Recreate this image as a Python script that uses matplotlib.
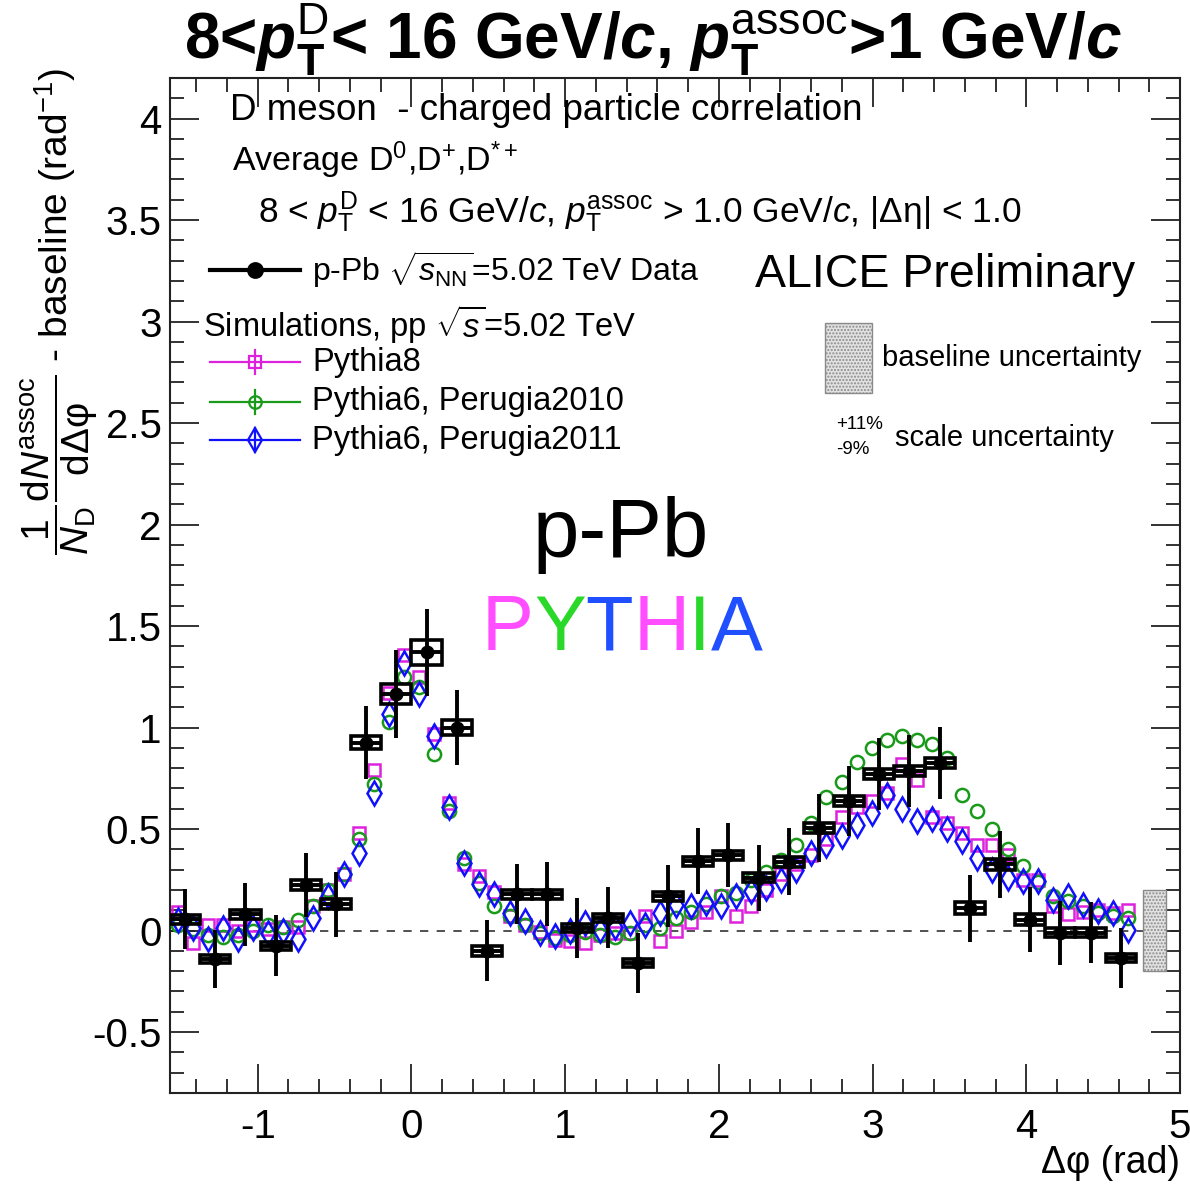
#!/usr/bin/env python3
"""D meson - charged particle azimuthal correlation, p-Pb data vs PYTHIA."""

import numpy as np
import matplotlib
matplotlib.use('Agg')
import matplotlib.pyplot as plt
from matplotlib.patches import Rectangle
from matplotlib.lines import Line2D
from matplotlib.ticker import MultipleLocator, FuncFormatter

plt.rcParams['font.family'] = ['Liberation Sans', 'DejaVu Sans']
plt.rcParams['mathtext.fontset'] = 'custom'
plt.rcParams['mathtext.rm'] = 'Liberation Sans'
plt.rcParams['mathtext.it'] = 'Liberation Sans:italic'
plt.rcParams['mathtext.bf'] = 'Liberation Sans:bold'
plt.rcParams['mathtext.bfit'] = 'Liberation Sans:italic:bold'
plt.rcParams['mathtext.sf'] = 'Liberation Sans'
plt.rcParams['axes.unicode_minus'] = False

# p-Pb data, 32 bins in [-pi/2, 3pi/2)
data_y = [0.055, -0.14, 0.08, -0.075, 0.225, 0.13, 0.925, 1.165, 1.37, 1.0,
          -0.1, 0.18, 0.18, 0.013, 0.063, -0.16, 0.17, 0.342, 0.372, 0.26,
          0.338, 0.506, 0.638, 0.77, 0.786, 0.827, 0.11, 0.326, 0.054, -0.01,
          -0.01, -0.135]
data_stat = [0.148, 0.142, 0.156, 0.15, 0.156, 0.16, 0.18, 0.215, 0.213, 0.185,
             0.15, 0.146, 0.156, 0.148, 0.15, 0.148, 0.152, 0.162, 0.158, 0.162,
             0.165, 0.168, 0.172, 0.177, 0.177, 0.177, 0.164, 0.165, 0.16, 0.157,
             0.152, 0.148]
data_syst = [0.022, 0.02, 0.022, 0.02, 0.025, 0.025, 0.032, 0.05, 0.062, 0.035,
             0.025, 0.022, 0.022, 0.02, 0.02, 0.02, 0.022, 0.022, 0.022, 0.022,
             0.024, 0.024, 0.025, 0.025, 0.025, 0.025, 0.03, 0.026, 0.026, 0.022,
             0.022, 0.02]

# simulations, 64 bins in [-pi/2, 3pi/2)
pythia8 = [0.09, -0.06, 0.03, 0.03, 0.0, 0.03, 0.01, 0.02, 0.02, 0.12,
           0.20, 0.28, 0.48, 0.79, 1.17, 1.36, 1.25, 0.97, 0.63, 0.33,
           0.27, 0.19, 0.07, 0.03, -0.005, -0.045, -0.05, -0.06, -0.02, -0.01,
           -0.01, 0.07, -0.05, 0.0, 0.04, 0.09, 0.17, 0.07, 0.12, 0.2,
           0.28, 0.33, 0.37, 0.45, 0.56, 0.61, 0.64, 0.68, 0.82, 0.74,
           0.56, 0.53, 0.48, 0.42, 0.42, 0.37, 0.25, 0.25, 0.12, 0.08,
           0.09, 0.1, 0.085, 0.1]
perugia2010 = [0.03, 0.01, -0.02, -0.03, -0.02, 0.0, 0.03, 0.02, 0.05, 0.12,
               0.2, 0.28, 0.45, 0.72, 1.03, 1.25, 1.2, 0.87, 0.59, 0.36,
               0.235, 0.12, 0.07, 0.03, -0.01, -0.035, -0.02, -0.005, -0.02, -0.03,
               -0.01, 0.03, 0.015, 0.06, 0.09, 0.13, 0.17, 0.185, 0.25, 0.29,
               0.35, 0.42, 0.53, 0.66, 0.73, 0.83, 0.9, 0.94, 0.96, 0.94,
               0.92, 0.85, 0.67, 0.59, 0.5, 0.4, 0.32, 0.24, 0.17, 0.145,
               0.12, 0.085, 0.07, 0.06]
perugia2011 = [0.05, 0.015, -0.04, 0.015, -0.04, 0.015, -0.01, 0.0, -0.04, 0.06,
               0.17, 0.28, 0.38, 0.68, 1.065, 1.32, 1.165, 0.96, 0.61, 0.335,
               0.23, 0.178, 0.087, 0.046, -0.011, -0.028, 0.0, 0.038, 0.005, 0.02,
               0.038, 0.03, 0.087, 0.128, 0.12, 0.137, 0.12, 0.169, 0.194, 0.21,
               0.25, 0.3, 0.38, 0.42, 0.465, 0.52, 0.58, 0.67, 0.6, 0.54,
               0.55, 0.5, 0.44, 0.36, 0.3, 0.26, 0.243, 0.243, 0.153, 0.169,
               0.128, 0.095, 0.087, 0.003]

baseline_unc = 0.2

W, H = 1190, 1184
fig = plt.figure(figsize=(W / 100, H / 100), dpi=100)
fig.patch.set_facecolor('white')
ax = fig.add_axes([170 / W, 1 - 1093 / H, 1010 / W, 1015 / H])

lo, hi = -np.pi / 2, 3 * np.pi / 2
x_data = lo + (np.arange(len(data_y)) + 0.5) * (hi - lo) / len(data_y)
x_mc = lo + (np.arange(len(pythia8)) + 0.5) * (hi - lo) / len(pythia8)
half_bin = (hi - lo) / len(data_y) / 2

MAG = '#dd22dd'
GRN = '#1a9a1a'
BLU = '#1010ff'

# baseline reference
ax.axhline(0, color='#333333', lw=1.2, ls=(0, (5, 5)), zorder=1)

# simulations
ax.plot(x_mc, pythia8, ls='none', marker='s', ms=9.2, mfc='none', mec=MAG, mew=1.8, zorder=3)
ax.plot(x_mc, perugia2010, ls='none', marker='o', ms=9.5, mfc='none', mec=GRN, mew=1.8, zorder=3)
ax.plot(x_mc, perugia2011, ls='none', marker='d', ms=12.5, mfc='none', mec=BLU, mew=1.8, zorder=3)

# data: systematic boxes, error bars, points
for xi, yi, sy in zip(x_data, data_y, data_syst):
    ax.add_patch(Rectangle((xi - half_bin, yi - sy), 2 * half_bin, 2 * sy,
                           fill=False, ec='black', lw=2.6, zorder=5))
ax.errorbar(x_data, data_y, yerr=data_stat, xerr=half_bin, fmt='o', color='black',
            ms=9, elinewidth=2.8, capsize=0, zorder=6)

# baseline uncertainty band
ax.add_patch(Rectangle((4.76, -baseline_unc), 0.15, 2 * baseline_unc,
                       fc='#e2e2e2', ec='#8a8a8a', hatch='.....', lw=1.0, zorder=4))

ax.set_xlim(lo, 5.0)
ax.set_ylim(-0.8, 4.2)
ax.xaxis.set_major_locator(MultipleLocator(1))
ax.xaxis.set_minor_locator(MultipleLocator(0.2))
ax.yaxis.set_major_locator(MultipleLocator(0.5))
ax.yaxis.set_minor_locator(MultipleLocator(0.1))
fmt = FuncFormatter(lambda v, p: f'{v:g}')
ax.xaxis.set_major_formatter(fmt)
ax.yaxis.set_major_formatter(fmt)
ax.tick_params(which='both', direction='in', top=True, right=True, width=1.3, colors='#222222')
ax.tick_params(which='major', length=21)
ax.tick_params(which='minor', length=10)
ax.tick_params(axis='x', labelsize=29, pad=11, labelcolor='black')
ax.tick_params(axis='y', labelsize=29, pad=6, labelcolor='black')
for sp in ax.spines.values():
    sp.set_linewidth(1.5)
    sp.set_color('#222222')


def put(px, py, s, size, **kw):
    kw.setdefault('ha', 'left')
    kw.setdefault('va', 'center')
    return fig.text(px / W, 1 - py / H, s, fontsize=size, **kw)


# title
put(653, 40,
    r'8<$\mathbfit{p}_{\mathbf{T}}^{\mathrm{D}}$< 16 GeV/$\mathbfit{c}$, '
    r'$\mathbfit{p}_{\mathbf{T}}^{\mathrm{assoc}}$>1 GeV/$\mathbfit{c}$',
    46, ha='center', fontweight='bold')

# axis titles
put(60, 68, r'$\dfrac{1}{N_{\rm D}}\dfrac{{\rm d}N^{\rm assoc}}{{\rm d}\Delta\mathrm{φ}}$ - baseline (rad$^{-1}$)',
    28, ha='center', va='top', rotation=90)
put(1180, 1163, 'Δφ (rad)', 27, ha='right')

# header lines
put(230, 110, 'D meson  - charged particle correlation', 26.5)
put(232, 160, r'Average D$^{0}$,D$^{+}$,D$^{*+}$', 24.5)
put(258, 212, r'8 < $p_{\rm T}^{\rm D}$ < 16 GeV/$c$, $p_{\rm T}^{\rm assoc}$ > 1.0 GeV/$c$, |$\mathrm{Δη}$| < 1.0', 25.5)
put(755, 275, 'ALICE Preliminary', 33.5)

# legend
def legend_entry(py, color, marker, ms, lw, bar):
    fig.add_artist(Line2D([210 / W, 300 / W], [1 - py / H] * 2, color=color, lw=lw,
                          transform=fig.transFigure))
    if bar:
        fig.add_artist(Line2D([255 / W] * 2, [1 - (py - 12) / H, 1 - (py + 12) / H],
                              color=color, lw=lw, transform=fig.transFigure))
    fig.add_artist(Line2D([255 / W], [1 - py / H], marker=marker, ms=ms,
                          mfc=color if not bar else 'none', mec=color, mew=1.6,
                          transform=fig.transFigure))


legend_entry(270, 'black', 'o', 10.5, 3.0, False)
put(312, 270, r'p-Pb $\sqrt{s_{\rm NN}}$=5.02 TeV Data', 23)
put(203, 325, r'Simulations, pp $\sqrt{s}$=5.02 TeV', 23.5)
legend_entry(362, MAG, 's', 8.5, 1.6, True)
put(312, 362, 'Pythia8', 23.5)
legend_entry(402, GRN, 'o', 9.0, 1.6, True)
put(312, 402, 'Pythia6, Perugia2010', 23.5)
legend_entry(440, BLU, 'd', 12.0, 1.6, True)
put(312, 440, 'Pythia6, Perugia2011', 23.5)

fig.add_artist(Rectangle((825 / W, 1 - 393 / H), 47 / W, 70 / H, fc='#e2e2e2', ec='#8a8a8a',
                         hatch='.....', lw=1.0, transform=fig.transFigure))
put(882, 358, 'baseline uncertainty', 21)
put(836, 425, '+11%', 13.5)
put(836, 450, '-9%', 13.5)
put(895, 438, 'scale uncertainty', 21)

# model labels
put(621, 535, 'p-Pb', 60, ha='center')
renderer = fig.canvas.get_renderer()
px = 482
for ch, col in zip('PYTHIA', ['#ff4dff', '#2ad82a', '#1f4fff', '#ff4dff', '#2ad82a', '#1f4fff']):
    t = put(px, 630, ch, 56, color=col)
    px += t.get_window_extent(renderer).width

fig.savefig('out.png', dpi=100, facecolor='white')
